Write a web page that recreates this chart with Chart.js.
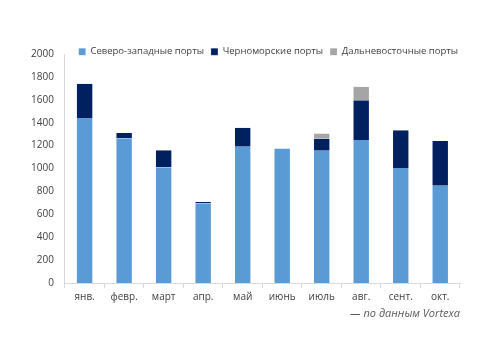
<!DOCTYPE html>
<html>
<head>
<meta charset="utf-8">
<script src="https://cdn.jsdelivr.net/npm/chart.js@4"></script>
<style>
  body { margin: 0; background: #fff; }
  #wrap { position: relative; width: 500px; height: 353px; }
  #note {
    position: absolute; right: 40px; top: 305px;
    font: italic 11px "Open Sans", sans-serif; color: #595959;
  }
</style>
</head>
<body>
<div id="wrap">
  <canvas id="grafico"></canvas>
  <div id="note">— по данным Vortexa</div>
</div>
<script>
// данные
const meses = ["янв.", "февр.", "март", "апр.", "май", "июнь", "июль", "авг.", "сент.", "окт."];
const severoZapadnye = [1440, 1265, 1010, 695, 1190, 1175, 1155, 1250, 1005, 850];
const chernomorskie = [300, 45, 150, 12, 165, 0, 105, 345, 330, 390];
const dalnevostochnye = [0, 0, 0, 0, 0, 0, 45, 120, 0, 0];
const ticksY = [0, 200, 400, 600, 800, 1000, 1200, 1400, 1600, 1800, 2000];

const fonte = { family: "'Open Sans', sans-serif", size: 10 };

// legenda mais baixa: encolhe a caixa para o gráfico subir e empurra o desenho
const legendaCompacta = {
    id: 'legendaCompacta',
    beforeLayout(chart) {
        const leg = chart.legend;
        if (leg && !leg._patched) {
            const origFit = leg.fit;
            leg.fit = function () { origFit.call(this); this.height = 16; };
            const origDraw = leg.draw;
            leg.draw = function () {
                const c = this.ctx;
                c.save();
                c.translate(5, 2);
                origDraw.call(this);
                c.restore();
            };
            leg._patched = true;
        }
    }
};

const borda = 'rgba(255,255,255,0.35)';
const lados = { left: 1, right: 1, top: 0, bottom: 0 };

const ctx = document.getElementById('grafico').getContext('2d');
new Chart(ctx, {
    type: 'bar',
    data: {
        labels: meses,
        datasets: [
            { label: 'Северо-западные порты', data: severoZapadnye, backgroundColor: '#5b9bd5' },
            { label: 'Черноморские порты', data: chernomorskie, backgroundColor: '#002060' },
            { label: 'Дальневосточные порты', data: dalnevostochnye, backgroundColor: '#a5a5a5' }
        ].map(d => Object.assign(d, {
            borderColor: borda,
            borderWidth: lados,
            categoryPercentage: 1,
            barPercentage: 0.44
        }))
    },
    options: {
        responsive: true,
        maintainAspectRatio: false,
        animation: false,
        layout: { padding: { left: 20, right: 40, top: 38, bottom: 47 } },
        scales: {
            x: {
                stacked: true,
                grid: { display: true, drawOnChartArea: false, tickLength: 5, color: '#d9d9d9' },
                border: { color: '#d9d9d9' },
                ticks: { font: fonte, color: '#404040', padding: 3 }
            },
            y: {
                stacked: true,
                min: 0,
                max: 2000,
                afterBuildTicks: axis => { axis.ticks = ticksY.map(v => ({ value: v })); },
                grid: { display: false, drawTicks: false },
                border: { color: '#d9d9d9' },
                ticks: { font: fonte, color: '#404040', padding: 11, callback: v => String(v) }
            }
        },
        plugins: {
            legend: {
                position: 'top',
                align: 'end',
                labels: {
                    font: { family: fonte.family, size: 9.5 },
                    color: '#404040', boxWidth: 7, boxHeight: 7, padding: 7
                }
            },
            tooltip: { enabled: false }
        }
    },
    plugins: [legendaCompacta]
});
</script>
</body>
</html>
